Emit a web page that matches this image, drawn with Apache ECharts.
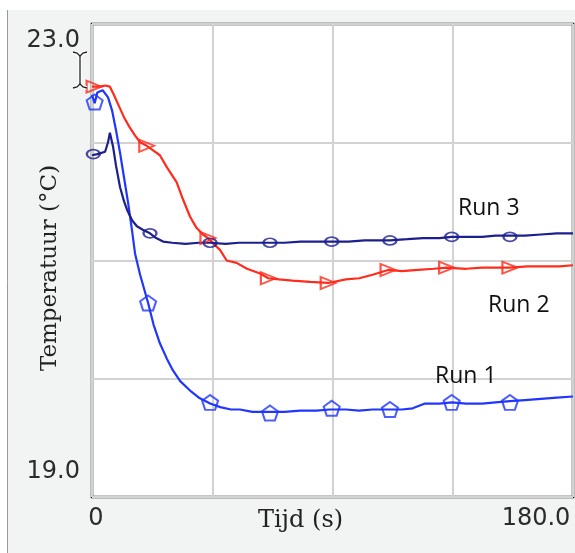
<!DOCTYPE html>
<html>
<head>
<meta charset="utf-8">
<script src="https://cdn.jsdelivr.net/npm/echarts@6/dist/echarts.min.js"></script>
<style>html,body{margin:0;padding:0;background:#fff}#c{width:575px;height:553px}</style>
</head>
<body>
<div id="c"></div>
<script>
// ---- data ----
const xTickValues = [0, 180];
const xTickLabels = ['0', '180.0'];
const yTickValues = [19, 23];
const yTickLabels = ['19.0', '23.0'];
const xName = 'Tijd (s)';
const yName = 'Temperatuur (°C)';
const runNames = ['Run 1', 'Run 2', 'Run 3'];

// Run 1 (blue, pentagons)
const run1Time = [0, 1, 2, 4, 6, 7.5, 9, 10.5, 12, 13.5, 15, 16.1, 18, 21, 23, 25.4, 28, 30.3, 33, 36.7, 40, 44.2, 48, 52, 55.4, 60, 66.6, 72, 78, 84, 89, 95, 100, 105, 111.5, 116, 120, 124.6, 130, 134.7, 140, 146, 151, 156.4, 162, 168, 174, 180];
const run1Temp = [22.40, 22.33, 22.42, 22.44, 22.38, 22.27, 22.10, 21.91, 21.70, 21.49, 21.25, 21.06, 20.88, 20.64, 20.46, 20.30, 20.17, 20.07, 19.98, 19.90, 19.84, 19.79, 19.76, 19.74, 19.74, 19.72, 19.72, 19.72, 19.73, 19.73, 19.74, 19.74, 19.73, 19.74, 19.74, 19.74, 19.75, 19.79, 19.79, 19.80, 19.79, 19.79, 19.80, 19.81, 19.82, 19.83, 19.84, 19.85];
const run1MarkTime = [1, 21, 44.2, 66.6, 89.7, 111.5, 134.6, 156.4];
const run1MarkTemp = [22.34, 20.64, 19.80, 19.71, 19.75, 19.74, 19.80, 19.80];

// Run 2 (red, triangles)
const run2Time = [0, 3, 5, 6.7, 8, 10, 12, 14, 16, 18, 20.5, 23, 25.4, 28, 31.7, 34, 36.7, 39, 41.5, 43.4, 46, 47.9, 50.4, 54.1, 58, 62.9, 66, 70, 75, 81.6, 88.4, 95, 100, 105, 110.8, 116, 122, 128, 132.7, 140, 146, 151, 156.4, 163, 170, 175, 180];
const run2Temp = [22.47, 22.47, 22.48, 22.47, 22.41, 22.31, 22.21, 22.13, 22.06, 22.00, 21.97, 21.93, 21.89, 21.79, 21.66, 21.52, 21.37, 21.28, 21.22, 21.19, 21.13, 21.09, 21.00, 20.98, 20.93, 20.89, 20.85, 20.84, 20.83, 20.82, 20.81, 20.84, 20.85, 20.88, 20.92, 20.91, 20.92, 20.93, 20.94, 20.93, 20.94, 20.94, 20.94, 20.95, 20.95, 20.95, 20.96];
const run2MarkTime = [0.8, 20.5, 43.4, 66, 88.4, 110.8, 132.7, 156.4];
const run2MarkTemp = [22.47, 21.97, 21.19, 20.85, 20.81, 20.92, 20.94, 20.94];

// Run 3 (navy, circles)
const run3Time = [0, 2, 4.9, 6, 6.7, 7.9, 9, 10.5, 12, 13.1, 15, 16.8, 19, 21.7, 24, 26.6, 30, 35, 40, 44.2, 50, 55, 60, 66.6, 72, 78, 84, 89.7, 96, 102, 108, 111.5, 118, 124, 130, 134.6, 140, 146, 151, 156.4, 162, 168, 174, 180];
const run3Temp = [21.89, 21.90, 21.92, 22.00, 22.08, 21.96, 21.80, 21.62, 21.50, 21.43, 21.34, 21.29, 21.26, 21.23, 21.19, 21.16, 21.15, 21.14, 21.15, 21.15, 21.14, 21.15, 21.15, 21.15, 21.15, 21.16, 21.16, 21.16, 21.16, 21.17, 21.17, 21.17, 21.18, 21.19, 21.19, 21.20, 21.20, 21.20, 21.21, 21.21, 21.21, 21.22, 21.23, 21.23];
const run3MarkTime = [0.5, 21.7, 44.2, 66.6, 89.7, 111.5, 134.6, 156.4];
const run3MarkTemp = [21.90, 21.23, 21.15, 21.15, 21.16, 21.17, 21.20, 21.20];

// ---- build chart ----
const zip = (a, b) => a.map((v, i) => [v, b[i]]);
const C1 = '#2036ff', C2 = '#ff2b1c', C3 = '#1c1f8e';
const tickFont = 'DejaVu Sans';
const serif = 'DejaVu Serif';
const pentagon = 'path://M0,-10 L9.51,-3.09 L5.88,8.09 L-5.88,8.09 L-9.51,-3.09 Z';

function lineSeries(name, t, v, color) {
  return { name, type: 'line', data: zip(t, v), symbol: 'none', z: 3,
    lineStyle: { color, width: 2.2 }, itemStyle: { color }, animation: false };
}
function markSeries(name, t, v, color, symbol, size, rotate) {
  return { name: name + ' markers', type: 'scatter', data: zip(t, v), symbol, symbolSize: size,
    symbolRotate: rotate || 0, z: 4, clip: true,
    itemStyle: { color: 'rgba(0,0,0,0)', borderColor: color, borderWidth: 2 }, animation: false };
}

const chart = echarts.init(document.getElementById('c'), null, { renderer: 'canvas' });
chart.setOption({
  backgroundColor: '#f2f3f3',
  animation: false,
  grid: { left: 92, right: 2, top: 24, bottom: 56, show: true, backgroundColor: '#ffffff',
    borderColor: '#1a1a1a', borderWidth: 2.5, containLabel: false, outerBoundsMode: 'none' },
  xAxis: {
    type: 'value', min: 0, max: 180, interval: 45,
    name: xName, nameLocation: 'middle', nameGap: 12, nameMoveOverlap: false,
    nameTextStyle: { fontFamily: serif, fontSize: 24, color: '#222', padding: [0, 64, 0, 0] },
    axisLine: { show: false }, axisTick: { show: false },
    splitLine: { show: true, lineStyle: { color: '#d2d2d2', width: 2 } },
    axisLabel: {
      margin: 10, fontFamily: tickFont, fontSize: 24, color: '#2b2b2b',
      formatter: v => { const i = xTickValues.indexOf(v); if (i < 0) return ''; return i === 0 ? '{l|' + xTickLabels[i] + '}' : '{r|' + xTickLabels[i] + '}'; },
      rich: {
        l: { fontFamily: tickFont, fontSize: 24, color: '#2b2b2b', padding: [0, 0, 0, 8] },
        r: { fontFamily: tickFont, fontSize: 24, color: '#2b2b2b', padding: [0, 74, 0, 0] }
      }
    }
  },
  yAxis: {
    type: 'value', min: 19, max: 23, interval: 1,
    axisLine: { show: false }, axisTick: { show: false },
    splitLine: { show: true, lineStyle: { color: '#d2d2d2', width: 2 } },
    axisLabel: {
      margin: 12, fontFamily: tickFont, fontSize: 24, color: '#2b2b2b',
      formatter: v => { const i = yTickValues.indexOf(v); if (i < 0) return ''; return i === 0 ? '{b|' + yTickLabels[i] + '}' : '{t|' + yTickLabels[i] + '}'; },
      rich: {
        t: { fontFamily: tickFont, fontSize: 24, color: '#2b2b2b', padding: [34, 0, 0, 0] },
        b: { fontFamily: tickFont, fontSize: 24, color: '#2b2b2b', padding: [0, 0, 50, 0] }
      }
    }
  },
  series: [
    lineSeries(runNames[0], run1Time, run1Temp, C1),
    lineSeries(runNames[1], run2Time, run2Temp, C2),
    lineSeries(runNames[2], run3Time, run3Temp, C3),
    markSeries(runNames[0], run1MarkTime, run1MarkTemp, C1, pentagon, [16, 15]),
    markSeries(runNames[1], run2MarkTime, run2MarkTemp, C2, 'triangle', [12, 15], -90),
    markSeries(runNames[2], run3MarkTime, run3MarkTemp, C3, 'circle', [13, 9])
  ],
  graphic: [
    { type: 'rect', shape: { x: 0, y: 0, width: 575, height: 10 }, style: { fill: '#ffffff' }, silent: true },
    { type: 'rect', shape: { x: 0, y: 0, width: 7, height: 553 }, style: { fill: '#ffffff' }, silent: true },
    { type: 'line', shape: { x1: 7.5, y1: 10, x2: 7.5, y2: 553 }, style: { stroke: '#9a9a9a', lineWidth: 1 }, silent: true },
    // y axis title
    { type: 'text', x: 50, y: 268, rotation: Math.PI / 2, silent: true, z: 12,
      style: { text: yName, fontFamily: serif, fontSize: 23, fill: '#222', align: 'center', verticalAlign: 'middle', textAlign: 'center', textVerticalAlign: 'middle' } },
    // I-beam cursor near the top of the y axis
    { type: 'polyline', shape: { points: [[73, 52], [77, 53], [80, 56], [83, 53], [87, 52]] }, style: { stroke: '#fff', lineWidth: 3.5, fill: null }, silent: true, z: 10 },
    { type: 'polyline', shape: { points: [[73, 88], [77, 87], [80, 84], [83, 87], [87, 88]] }, style: { stroke: '#fff', lineWidth: 3.5, fill: null }, silent: true, z: 10 },
    { type: 'line', shape: { x1: 80, y1: 55, x2: 80, y2: 85 }, style: { stroke: '#fff', lineWidth: 3.5 }, silent: true, z: 10 },
    { type: 'polyline', shape: { points: [[73, 52], [77, 53], [80, 56], [83, 53], [87, 52]] }, style: { stroke: '#222', lineWidth: 1.3, fill: null }, silent: true, z: 11 },
    { type: 'polyline', shape: { points: [[73, 88], [77, 87], [80, 84], [83, 87], [87, 88]] }, style: { stroke: '#222', lineWidth: 1.3, fill: null }, silent: true, z: 11 },
    { type: 'line', shape: { x1: 80, y1: 55, x2: 80, y2: 85 }, style: { stroke: '#222', lineWidth: 1.3 }, silent: true, z: 11 },
    // run labels
    { type: 'text', left: 458, top: 197, style: { text: runNames[2], fontFamily: 'Open Sans', fontSize: 23, fill: '#111' }, z: 12 },
    { type: 'text', left: 488, top: 294, style: { text: runNames[1], fontFamily: 'Open Sans', fontSize: 23, fill: '#111' }, z: 12 },
    { type: 'text', left: 435, top: 365, style: { text: runNames[0], fontFamily: 'Open Sans', fontSize: 23, fill: '#111' }, z: 12 }
  ]
});
</script>
</body>
</html>
